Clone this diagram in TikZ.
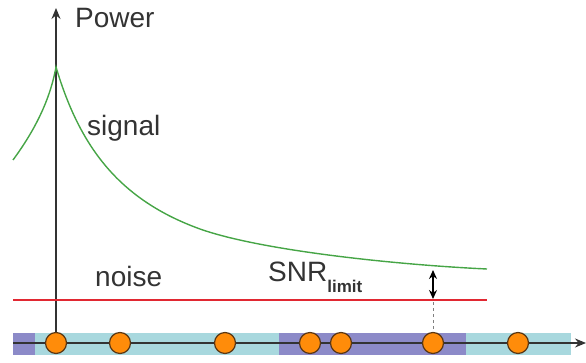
\documentclass[tikz,border=0pt]{standalone}
\usepackage{fontspec}
\setmainfont{Liberation Sans}
\usetikzlibrary{arrows.meta}
\definecolor{gruen}{RGB}{70,165,70}
\definecolor{rot}{RGB}{225,40,50}
\definecolor{tuerkis}{RGB}{168,216,222}
\definecolor{lila}{RGB}{140,138,200}
\definecolor{orangeFill}{RGB}{255,140,10}
\definecolor{orangeRand}{RGB}{90,55,20}
\tikzstyle{axislabel} = [anchor=base west,inner sep=0pt,font=\fontsize{28}{30}\selectfont,text=black!80]
\tikzstyle{sample} = [circle,draw=orangeRand,fill=orangeFill,line width=1.2pt,minimum size=21pt,inner sep=0pt]
\tikzstyle{axis} = [-{Stealth[length=11pt,width=9pt]},line width=1.5pt,draw=black!80]
\tikzstyle{signal} = [line width=1.4pt,draw=gruen]
\tikzstyle{noise} = [line width=1.4pt,draw=rot]
\begin{document}
\begin{tikzpicture}[x=1pt,y=-1pt]
\useasboundingbox (0,0) rectangle (586,363);

% band below the axis
\fill[tuerkis] (13,333) rectangle (571,355);
\fill[lila] (13,333) rectangle (35,355);
\fill[lila] (279,333) rectangle (466,355);

\coordinate (xl) at (13,343);
\coordinate (xr) at (586,343);
\draw[axis] (xl) -- (xr);

\node[sample] (s1) at (56,343) {};
\node[sample] (s2) at (120,343) {};
\node[sample] (s3) at (225,343) {};
\node[sample] (s4) at (310,343) {};
\node[sample] (s5) at (341,343) {};
\node[sample] (s6) at (433,343) {};
\node[sample] (s7) at (518,343) {};

\coordinate (ytop) at (56,8);
\draw[axis] (s1) -- (ytop);
\node[axislabel] (power) at (75,28) {Power};

% signal
\coordinate (peak) at (56,67);
\draw[signal] (13,160) .. controls (35,130) and (50,100) .. (peak)
  .. controls (80,148) and (120,200) .. (200,229)
  .. controls (262,251) and (400,265) .. (487,269);
\node[axislabel] (sig) at (87,136) {signal};

% noise
\coordinate (nl) at (13,300);
\coordinate (nr) at (487,300);
\draw[noise] (nl) -- (nr);
\node[axislabel] (noi) at (95,287) {noise};

% SNR limit
\coordinate (snrtop) at (433,270);
\coordinate (snrbot) at (433,299);
\coordinate (dtop) at (433,302);
\draw[{Stealth[length=9pt,width=8pt]}-{Stealth[length=9pt,width=8pt]},line width=1.4pt] (snrtop) -- (snrbot);
\draw[dashed,line width=1pt,draw=black!50] (dtop) -- (s6.north);
\node[axislabel] (snr) at (268,282) {SNR{\fontsize{17}{18}\selectfont\bfseries\raisebox{-10pt}{limit}}};
\end{tikzpicture}
\end{document}
